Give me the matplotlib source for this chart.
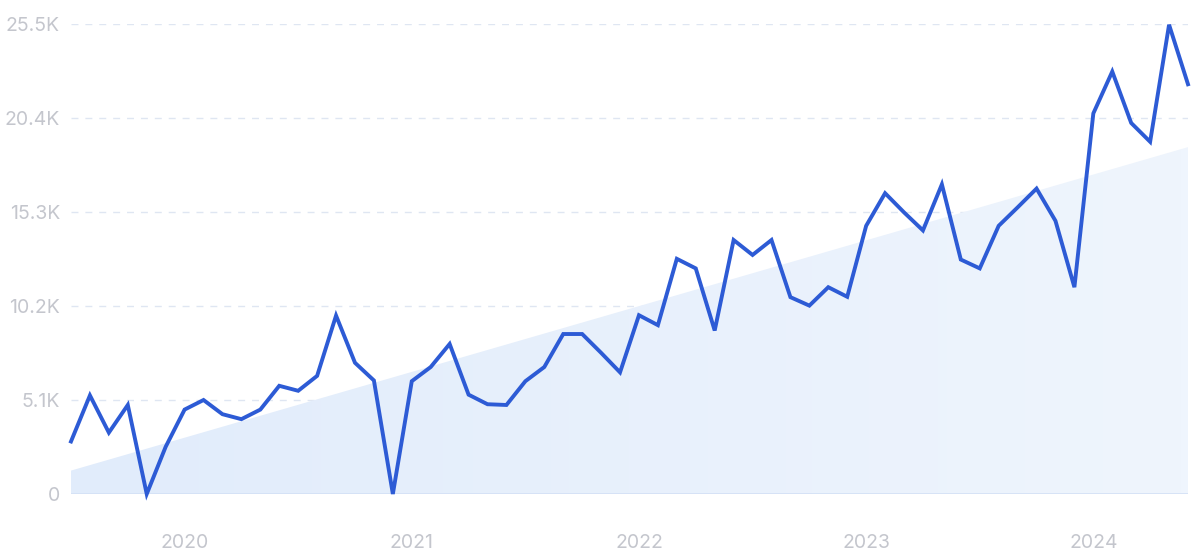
import numpy as np
import pandas as pd
import matplotlib
matplotlib.use("Agg")
import matplotlib.pyplot as plt
from matplotlib.colors import LinearSegmentedColormap

# monthly search volume, Jul 2019 - Jun 2024
months = pd.date_range("2019-07-01", periods=60, freq="MS")
volume = [2850, 5350, 3330, 4830, 0, 2560,
          4580, 5100, 4330, 4060, 4580, 5870, 5600, 6410, 9680, 7120, 6160, 0,
          6120, 6890, 8140, 5390, 4870, 4830, 6120, 6890, 8680, 8680, 7660, 6600,
          9700, 9160, 12760, 12240, 8870, 13780, 12970, 13780, 10680, 10220, 11220, 10700,
          14550, 16320, 15280, 14300, 16800, 12720, 12240, 14550, 15550, 16570, 14820, 11220,
          20650, 22920, 20130, 19110, 25460, 22230]
trend_ends = [1270, 18820]

yticks = [0, 5100, 10200, 15300, 20400, 25500]
ytick_labels = ["0", "5.1K", "10.2K", "15.3K", "20.4K", "25.5K"]
xtick_years = [2020, 2021, 2022, 2023, 2024]

line_col = "#2D5BD5"
text_col = "#C4C6CD"

plt.rcParams['font.family'] = ['Inter', 'DejaVu Sans']

fig = plt.figure(figsize=(12, 5.6), dpi=100)
ax = fig.add_axes([71 / 1200, 66 / 560, (1188 - 71) / 1200, (494 - 24) / 560])

x = np.arange(len(months))
trend = np.linspace(trend_ends[0], trend_ends[1], len(months))

# gradient-filled trend area
poly = ax.fill_between(x, 0, trend, color="none", lw=0)
cmap = LinearSegmentedColormap.from_list("g", ["#E1ECFB", "#EFF5FD"])
grad = np.linspace(0, 1, 256).reshape(1, -1)
im = ax.imshow(grad, cmap=cmap, aspect="auto", extent=[0, len(months) - 1, 0, trend_ends[1]],
               interpolation="bicubic", zorder=1)
path = poly.get_paths()[0]
im.set_clip_path(path, transform=ax.transData)

ax.plot(x, volume, color=line_col, lw=2.8, solid_joinstyle="miter", zorder=3, clip_on=False)

ax.set_xlim(0, len(months) - 1)
ax.set_ylim(0, 25500)

for v in yticks[1:]:
    ax.axhline(v, color="#DFE6F2", lw=1, ls=(0, (5, 5)), zorder=0)
ax.axhline(0, color="#D3E0F5", lw=1.2, zorder=2)

ax.set_yticks(yticks)
ax.set_yticklabels(ytick_labels)
xt = [list(months).index(pd.Timestamp(f"{y}-01-01")) for y in xtick_years]
ax.set_xticks(xt)
ax.set_xticklabels([str(y) for y in xtick_years])
ax.tick_params(axis="both", length=0, colors=text_col, labelsize=14)
ax.tick_params(axis="x", pad=29)
ax.tick_params(axis="y", pad=8)
for s in ax.spines.values():
    s.set_visible(False)

fig.savefig("out.png", dpi=100)
